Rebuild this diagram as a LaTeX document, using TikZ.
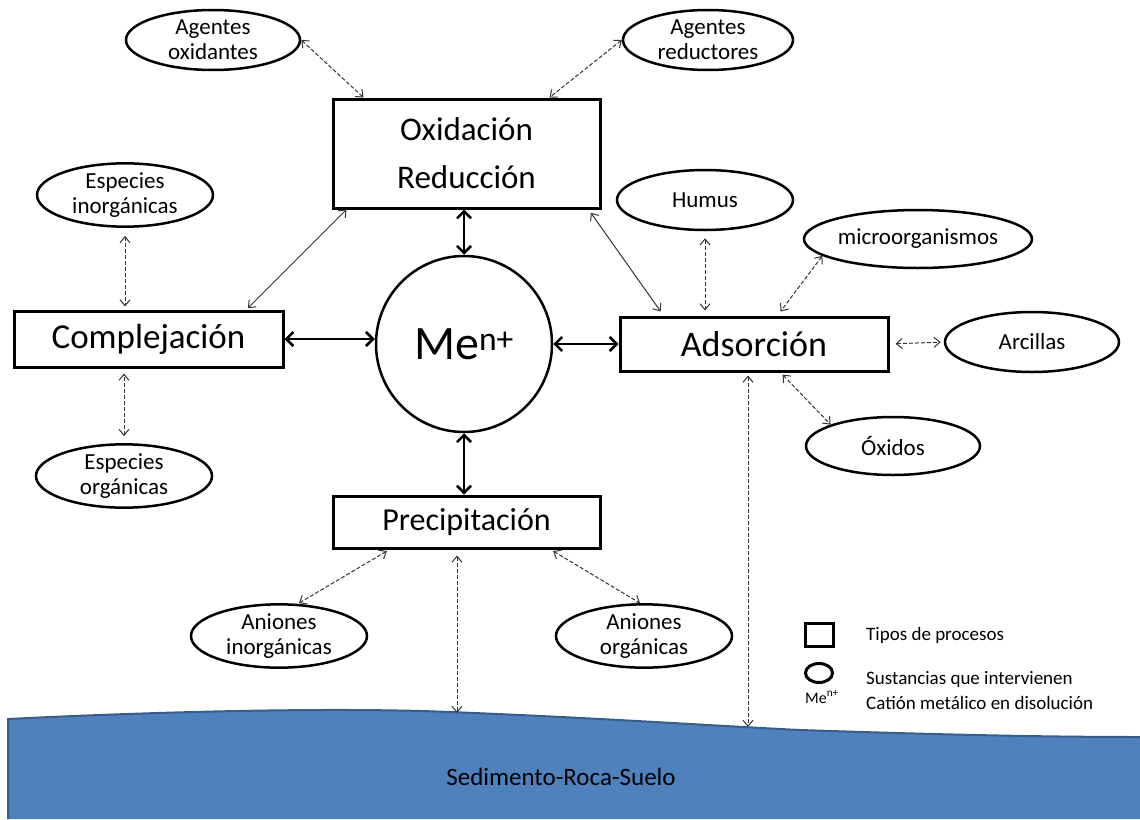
\documentclass[tikz,border=0pt]{standalone}
\usepackage{fontspec}
\setmainfont{Carlito}
\usetikzlibrary{shapes.geometric,arrows.meta,calc}
\definecolor{groundfill}{HTML}{4F81BD}
\definecolor{groundline}{HTML}{385D8A}
\tikzset{
  proc/.style={draw, line width=3pt, rectangle, inner sep=0pt, align=center},
  subst/.style={draw, line width=2.5pt, ellipse, inner sep=0pt, align=center,
    font=\fontsize{23}{25}\selectfont},
  link/.style={line width=2.5pt, >={Straight Barb[length=7pt,width=14pt]}, <->},
  rel/.style={line width=1pt, draw=black!80, >={Straight Barb[length=6pt,width=10pt]}, <->},
  drel/.style={rel, dash pattern=on 4pt off 2pt},
  legtxt/.style={anchor=base west, inner sep=0pt, font=\fontsize{19}{19}\selectfont},
}
\begin{document}
\begin{tikzpicture}[x=1pt,y=-1pt]
\useasboundingbox (0,0) rectangle (1140,819);
% ground
\fill[groundfill] (8,819) -- (8,719) .. controls (150,712) and (330,707) .. (450,712)
  .. controls (600,718) and (700,725) .. (800,730)
  .. controls (950,735) and (1050,737) .. (1140,737) -- (1140,819) -- cycle;
\draw[groundline, line width=2pt] (8,819) -- (8,719) .. controls (150,712) and (330,707) .. (450,712)
  .. controls (600,718) and (700,725) .. (800,730)
  .. controls (950,735) and (1050,737) .. (1140,737);
\node[font=\fontsize{25}{25}\selectfont] (ground) at (561,777) {Sedimento-Roca-Suelo};
\coordinate (gA) at (748,727);
\coordinate (gP) at (457,713);

% processes
\node[proc, minimum width=267pt, minimum height=109pt, font=\fontsize{33}{48}\selectfont] (ox) at (466.5,153.5) {Oxidación\\Reducción};
\node[proc, minimum width=269pt, minimum height=56pt, font=\fontsize{35}{35}\selectfont] (comp) at (148.5,339) {Complejación};
\node[proc, minimum width=268pt, minimum height=54pt, font=\fontsize{36}{36}\selectfont] (ads) at (754,344) {Adsorción};
\node[proc, minimum width=267pt, minimum height=52pt, font=\fontsize{32}{32}\selectfont] (prec) at (466.5,522) {Precipitación};
\node[draw, circle, line width=2.5pt, minimum size=176pt, inner sep=0pt, font=\fontsize{48}{48}\selectfont] (me) at (464,344) {Me\textsuperscript{n+}};

% substances
\node[subst, minimum width=174pt, minimum height=60pt] (agox) at (213,40) {Agentes\\oxidantes};
\node[subst, minimum width=170pt, minimum height=60pt] (agred) at (708,40) {Agentes\\reductores};
\node[subst, minimum width=176pt, minimum height=60pt] (espin) at (125,195) {Especies\\inorgánicas};
\node[subst, minimum width=176pt, minimum height=62pt] (esporg) at (124,476) {Especies\\orgánicas};
\node[subst, minimum width=176pt, minimum height=60pt] (humus) at (705,200) {Humus};
\node[subst, minimum width=228pt, minimum height=58pt] (micro) at (918,239) {microorganismos};
\node[subst, minimum width=174pt, minimum height=60pt] (arc) at (1032,342) {Arcillas};
\node[subst, minimum width=174pt, minimum height=58pt] (oxid) at (893,446) {Óxidos};
\node[subst, minimum width=176pt, minimum height=62pt] (anin) at (279,636) {Aniones\\inorgánicas};
\node[subst, minimum width=176pt, minimum height=62pt] (anorg) at (644,636) {Aniones\\orgánicas};

% main links
\draw[link] (comp.east) -- (comp.east -| me.west);
\draw[link] (me.east) -- (ads.west);
\draw[link] (me.north) -- (me.north |- ox.south);
\draw[link] (me.south) -- (me.south |- prec.north);
\draw[rel, shorten <=2pt] ([xshift=234pt]comp.north west) -- ([xshift=15pt]ox.south west);
\draw[rel, shorten <=4pt, shorten >=5pt] ([xshift=-13pt]ox.south east) -- ([xshift=45pt]ads.north west);

% dashed links
\draw[drel] (agox.east) -- ([xshift=32pt]ox.north west);
\draw[drel] (agred.west) -- ([xshift=-52pt]ox.north east);
\draw[drel, shorten <=8pt, shorten >=3pt] (espin.south) -- (espin.south |- comp.north);
\draw[drel, shorten <=7pt, shorten >=5pt] (esporg.north) -- (esporg.north |- comp.south);
\draw[drel, shorten <=7pt, shorten >=5pt] (humus.south) -- (humus.south |- ads.north);
\draw[drel, shorten >=5pt] (micro.190) -- ([xshift=159pt]ads.north west);
\draw[drel, shorten <=6pt, shorten >=3pt] (ads.east) -- (arc.west);
\draw[drel, shorten <=3pt] ([xshift=162pt]ads.south west) -- (oxid.north west);
\draw[drel, shorten <=3pt] (gA |- ads.south) -- (gA);
\draw[drel, shorten <=3pt] ([xshift=58pt]prec.south west) -- ([xshift=20pt]anin.north);
\draw[drel, shorten <=3pt] ([xshift=-51pt]prec.south east) -- ([xshift=-4pt]anorg.north);
\draw[drel, shorten <=6pt] (gP |- prec.south) -- (gP);

% legend
\node[draw, line width=3pt, minimum width=28pt, minimum height=23pt, inner sep=0pt] (lsq) at (819,634.5) {};
\node[draw, line width=3pt, ellipse, minimum width=27pt, minimum height=19pt, inner sep=0pt] (lci) at (819,673) {};
\node[anchor=base west, inner sep=0pt, font=\fontsize{16}{16}\selectfont] (lme) at (805,703) {Me\textsuperscript{n+}};
\node[legtxt] (t1) at (866,640) {Tipos de procesos};
\node[legtxt] (t2) at (866,684) {Sustancias que intervienen};
\node[legtxt] (t3) at (866,709) {Catión metálico en disolución};
\end{tikzpicture}
\end{document}
